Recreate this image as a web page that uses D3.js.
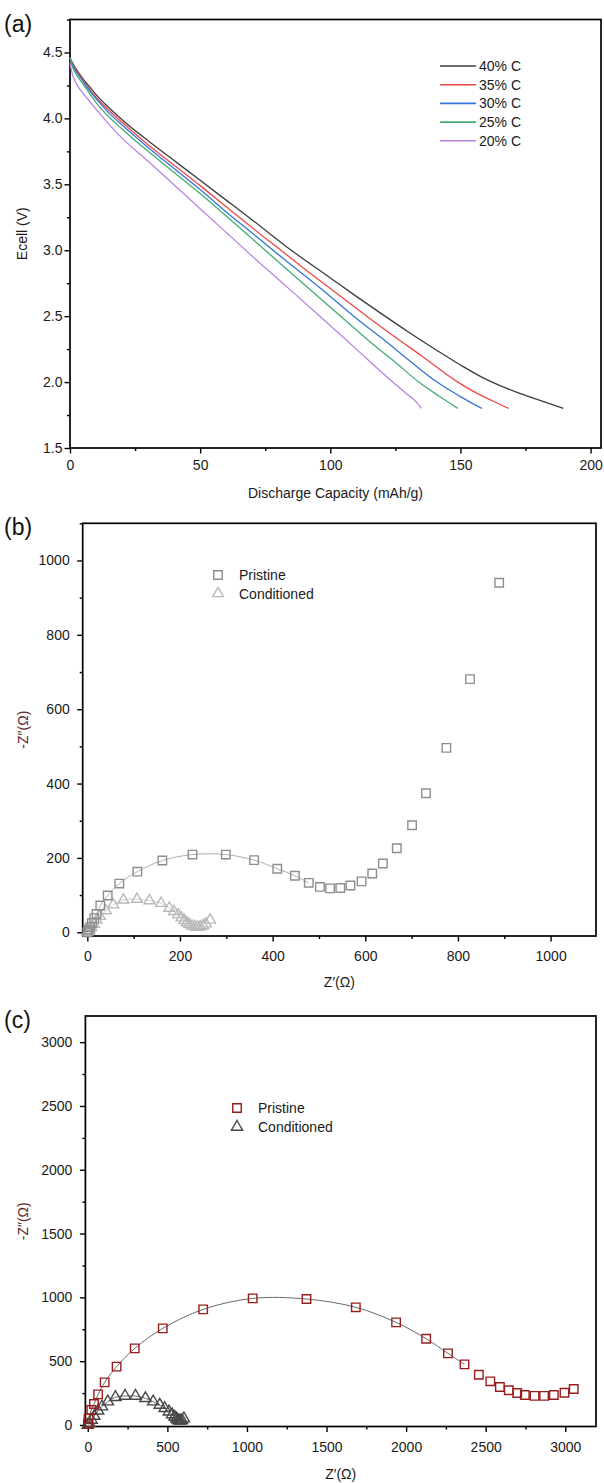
<!DOCTYPE html>
<html lang="en">
<head>
<meta charset="utf-8">
<title>Discharge and impedance</title>
<script src="https://cdn.jsdelivr.net/npm/d3@7"></script>
<style>
  body { margin: 0; background: #fff; }
  svg text { font-family: "Liberation Sans", Arial, sans-serif; }
</style>
</head>
<body>
<svg id="fig" width="604" height="1483"></svg>
<script>
// ---- (a) discharge curves ----
var rateNames = ["40% C", "35% C", "30% C", "25% C", "20% C"];
var rateColors = ["#3c3c3c", "#ee4646", "#3575da", "#43ad72", "#b784e6"];

var cap40 = [0, 1, 2.5, 5, 7.5, 10, 15, 20, 30, 40, 50, 60, 70, 85, 100, 110, 121, 130, 141, 150, 158, 165, 172, 180, 189.5];
var volt40 = [4.46, 4.42, 4.37, 4.30, 4.24, 4.18, 4.08, 3.99, 3.83, 3.68, 3.53, 3.38, 3.23, 3.0, 2.79, 2.65, 2.5, 2.38, 2.24, 2.13, 2.04, 1.975, 1.92, 1.865, 1.80];
var cap35 = [0, 1, 2.5, 5, 7.5, 10, 15, 20, 30, 40, 50, 60, 70, 81, 90, 100, 114, 125, 135, 149, 155, 162, 168.5];
var volt35 = [4.46, 4.41, 4.36, 4.29, 4.22, 4.16, 4.06, 3.97, 3.80, 3.645, 3.49, 3.33, 3.17, 3.0, 2.86, 2.71, 2.5, 2.34, 2.2, 2.0, 1.93, 1.86, 1.80];
var cap30 = [0, 1, 2.5, 5, 7.5, 10, 15, 20, 30, 40, 50, 60, 70, 78, 90, 100, 109, 120, 130, 141, 150, 158.2];
var volt30 = [4.46, 4.40, 4.35, 4.28, 4.21, 4.15, 4.04, 3.95, 3.78, 3.62, 3.46, 3.29, 3.13, 3.0, 2.81, 2.65, 2.5, 2.33, 2.17, 2.0, 1.89, 1.80];
var cap25 = [0, 1, 2.5, 5, 7.5, 10, 15, 20, 30, 40, 50, 60, 75, 90, 104, 115, 125, 134, 142, 149];
var volt25 = [4.46, 4.39, 4.33, 4.26, 4.19, 4.12, 4.01, 3.92, 3.75, 3.59, 3.43, 3.26, 3.0, 2.74, 2.5, 2.31, 2.15, 2.0, 1.89, 1.80];
var cap20 = [0, 1, 2.5, 5, 7.5, 10, 15, 20, 30, 40, 50, 60, 70, 80, 96, 110, 124, 130, 133, 135];
var volt20 = [4.42, 4.33, 4.26, 4.19, 4.13, 4.07, 3.955, 3.85, 3.675, 3.495, 3.315, 3.135, 2.955, 2.78, 2.5, 2.25, 2.0, 1.9, 1.85, 1.80];

var capTicks = [0, 50, 100, 150, 200];
var voltTicks = [1.5, 2.0, 2.5, 3.0, 3.5, 4.0, 4.5];

// ---- (b) impedance, gray ----
var bPristineRe = [0, 3, 6, 10, 15, 20, 28, 44, 69, 108, 162, 227, 299, 360, 410, 448, 478, 502, 524, 546, 568, 592, 615, 638, 668, 701, 731, 775, 826, 889];
var bPristineIm = [0, 7, 14, 25, 38, 49, 72, 99, 131, 163, 193, 209, 209, 194, 171, 152, 133, 122, 118, 119, 126, 137, 158, 185, 226, 288, 374, 496, 681, 940];
var bCondRe = [0, 3, 5, 9, 14, 20, 27, 40, 56, 78, 107, 134, 159, 177, 187, 196, 203, 209, 215, 220, 226, 232, 238, 244, 250, 256, 265];
var bCondIm = [0, 3, 6, 13, 22, 33, 43, 58, 74, 87, 89, 85, 78, 65, 56, 47, 39, 32, 26, 21, 17, 15, 14, 15, 18, 23, 33];
var bTicks = [0, 200, 400, 600, 800, 1000];

// ---- (c) impedance, red/black ----
var cPristineRe = [1, 5, 22, 39, 65, 106, 181, 295, 471, 725, 1036, 1374, 1684, 1937, 2126, 2263, 2367, 2457, 2529, 2589, 2645, 2698, 2746, 2807, 2867, 2928, 2995, 3053];
var cPristineIm = [10, 52, 117, 164, 240, 334, 457, 600, 757, 906, 992, 987, 922, 804, 676, 561, 475, 394, 342, 298, 272, 251, 235, 228, 228, 235, 253, 282];
var cCondRe = [0, 10, 24, 41, 65, 89, 126, 174, 234, 300, 362, 411, 452, 483, 510, 530, 545, 556, 565, 573, 582, 592, 604];
var cCondIm = [0, 13, 39, 70, 112, 144, 183, 217, 227, 227, 209, 183, 157, 131, 104, 82, 64, 50, 40, 34, 32, 36, 50];
var cTicksX = [0, 500, 1000, 1500, 2000, 2500, 3000];
var cTicksY = [0, 500, 1000, 1500, 2000, 2500, 3000];

var svg = d3.select("#fig");
var FONT = "'Liberation Sans', Arial, sans-serif";

function minorsOf(ticks, lo, hi) {
  var step = (ticks[1] - ticks[0]) / 2, out = [];
  for (var v = ticks[0] - step; v <= hi; v += step) {
    if (v >= lo && ticks.indexOf(+v.toFixed(6)) < 0) out.push(v);
  }
  return out;
}

// frame + ticks, returns scales
function panel(o) {
  var g = svg.append("g");
  var x = d3.scaleLinear().domain(o.xDom).range([o.left, o.right]);
  var y = d3.scaleLinear().domain(o.yDom).range([o.bottom, o.top]);

  function style(sel) {
    sel.select(".domain").remove();
    sel.attr("font-size", 14).attr("font-family", FONT).attr("color", "#000");
    sel.selectAll(".tick line").attr("stroke-width", 1.4);
    sel.selectAll(".tick text").attr("fill", "#1a1a1a");
  }
  g.append("g").attr("transform", "translate(0," + o.bottom + ")")
    .call(d3.axisBottom(x).tickValues(minorsOf(o.xTicks, o.xDom[0], o.xDom[1])).tickSize(3).tickFormat(""))
    .call(style);
  g.append("g").attr("transform", "translate(0," + o.bottom + ")")
    .call(d3.axisBottom(x).tickValues(o.xTicks).tickSize(5.5).tickPadding(o.xPad).tickFormat(o.xFmt || d3.format("d")))
    .call(style);
  g.append("g").attr("transform", "translate(" + o.left + ",0)")
    .call(d3.axisLeft(y).tickValues(minorsOf(o.yTicks, o.yDom[0], o.yDom[1])).tickSize(3).tickFormat(""))
    .call(style);
  g.append("g").attr("transform", "translate(" + o.left + ",0)")
    .call(d3.axisLeft(y).tickValues(o.yTicks).tickSize(5.5).tickPadding(o.yPad).tickFormat(o.yFmt || d3.format("d")))
    .call(style);

  g.append("rect").attr("x", o.left).attr("y", o.top)
    .attr("width", o.right - o.left).attr("height", o.bottom - o.top)
    .attr("fill", "none").attr("stroke", "#000").attr("stroke-width", 1.7);

  svg.append("text").attr("x", 4).attr("y", o.top + 12).attr("font-size", 23)
    .attr("fill", "#111").text(o.tag);
  svg.append("text").attr("x", (o.left + o.right) / 2).attr("y", o.xTitleY)
    .attr("text-anchor", "middle").attr("font-size", 14).attr("fill", "#1a1a1a").text(o.xTitle);
  svg.append("text").attr("transform", "translate(" + o.yTitleX + "," + ((o.top + o.bottom) / 2) + ") rotate(-90)")
    .attr("text-anchor", "middle").attr("font-size", 14).attr("fill", o.yTitleColor).text(o.yTitle);

  var plot = svg.append("g");
  return { x: x, y: y, g: plot };
}

// ---------- panel (a) ----------
var pa = panel({
  left: 70, right: 601, top: 19.5, bottom: 448,
  xDom: [0, 204], yDom: [1.5, 4.75],
  xTicks: capTicks, yTicks: voltTicks, xPad: 7, yPad: 2,
  yFmt: d3.format(".1f"),
  tag: "(a)", xTitle: "Discharge Capacity (mAh/g)", xTitleY: 498,
  yTitle: "Ecell (V)", yTitleX: 27, yTitleColor: "#1a1a1a"
});
var capSets = [cap40, cap35, cap30, cap25, cap20];
var voltSets = [volt40, volt35, volt30, volt25, volt20];
var rateLine = d3.line().x(function(d) { return pa.x(d[0]); }).y(function(d) { return pa.y(d[1]); })
  .curve(d3.curveMonotoneX);
capSets.forEach(function(c, i) {
  pa.g.append("path").datum(d3.zip(c, voltSets[i]))
    .attr("d", rateLine).attr("fill", "none")
    .attr("stroke", rateColors[i]).attr("stroke-width", 1.3);
});
var legA = pa.g.selectAll(".legA").data(rateNames).enter().append("g")
  .attr("transform", function(d, i) { return "translate(440," + (66 + i * 18.7) + ")"; });
legA.append("line").attr("x1", 0).attr("x2", 36)
  .attr("stroke", function(d, i) { return rateColors[i]; }).attr("stroke-width", 1.6);
legA.append("text").attr("x", 39).attr("dy", "0.36em").attr("font-size", 14)
  .attr("fill", "#1a1a1a").text(function(d) { return d; });

// ---------- impedance helper ----------
function nyquist(p, re, im, fitN, shape, color, lineColor, size) {
  var pts = d3.zip(re, im);
  var fit = d3.line().x(function(d) { return p.x(d[0]); }).y(function(d) { return p.y(d[1]); })
    .curve(d3.curveCatmullRom);
  p.g.append("path").datum(pts.slice(0, fitN)).attr("d", fit)
    .attr("fill", "none").attr("stroke", lineColor).attr("stroke-width", 1);
  var sym = d3.symbol().type(shape).size(size);
  p.g.selectAll(null).data(pts).enter().append("path")
    .attr("d", sym)
    .attr("transform", function(d) { return "translate(" + p.x(d[0]) + "," + p.y(d[1]) + ")"; })
    .attr("fill", "none").attr("stroke", color).attr("stroke-width", 1.4);
}
function legend(p, x0, y0, dy, items) {
  items.forEach(function(it, i) {
    p.g.append("path").attr("d", d3.symbol().type(it.shape).size(it.size)())
      .attr("transform", "translate(" + x0 + "," + (y0 + i * dy) + ")")
      .attr("fill", "none").attr("stroke", it.color).attr("stroke-width", 1.4);
    p.g.append("text").attr("x", x0 + 21).attr("y", y0 + i * dy).attr("dy", "0.36em")
      .attr("font-size", 14).attr("fill", "#1a1a1a").text(it.label);
  });
}

// ---------- panel (b) ----------
var pb = panel({
  left: 82.7, right: 596, top: 523.3, bottom: 936,
  xDom: [-10, 1098], yDom: [-10, 1100],
  xTicks: bTicks, yTicks: bTicks, xPad: 10, yPad: 7.5,
  tag: "(b)", xTitle: "Z\u2032(\u03A9)", xTitleY: 987,
  yTitle: "-Z\u2033(\u03A9)", yTitleX: 28, yTitleColor: "#5e2a2a"
});
nyquist(pb, bCondRe, bCondIm, 22, d3.symbolTriangle, "#b9b9b9", "#cfcfcf", 50);
nyquist(pb, bPristineRe, bPristineIm, 17, d3.symbolSquare, "#8e8e8e", "#b0b0b0", 72);
legend(pb, 218, 575, 18.5, [
  { shape: d3.symbolSquare, size: 72, color: "#8e8e8e", label: "Pristine" },
  { shape: d3.symbolTriangle, size: 50, color: "#b9b9b9", label: "Conditioned" }
]);

// ---------- panel (c) ----------
var pc = panel({
  left: 85.4, right: 596, top: 1016, bottom: 1426.5,
  xDom: [-15, 3193], yDom: [-12, 3205],
  xTicks: cTicksX, yTicks: cTicksY, xPad: 10, yPad: 7.5,
  tag: "(c)", xTitle: "Z\u2032(\u03A9)", xTitleY: 1479,
  yTitle: "-Z\u2033(\u03A9)", yTitleX: 28, yTitleColor: "#5e2a2a"
});
nyquist(pc, cCondRe, cCondIm, 20, d3.symbolTriangle, "#474747", "#6a6a6a", 55);
nyquist(pc, cPristineRe, cPristineIm, 17, d3.symbolSquare, "#981c1c", "#6a6a6a", 72);
legend(pc, 237, 1108, 19, [
  { shape: d3.symbolSquare, size: 72, color: "#981c1c", label: "Pristine" },
  { shape: d3.symbolTriangle, size: 55, color: "#474747", label: "Conditioned" }
]);
</script>
</body>
</html>
